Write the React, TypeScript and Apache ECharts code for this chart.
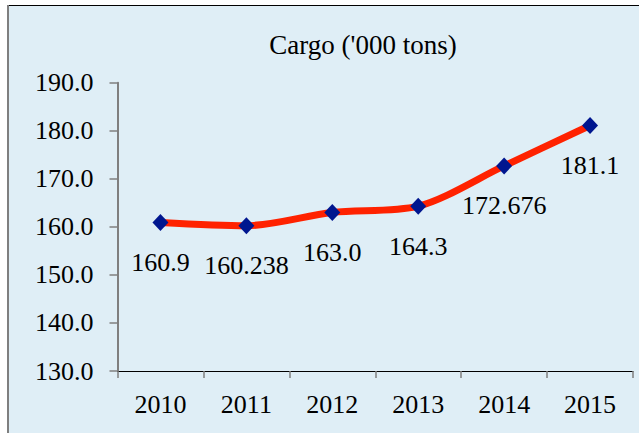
import React, { useEffect, useRef } from "react";
import * as echarts from "echarts";

const years = ["2010", "2011", "2012", "2013", "2014", "2015"];
const cargo = [160.9, 160.238, 163.0, 164.3, 172.676, 181.1];
const cargoLabels = ["160.9", "160.238", "163.0", "164.3", "172.676", "181.1"];
const chartTitle = "Cargo ('000 tons)";

const FONT = "Times New Roman, Liberation Serif, Tinos, DejaVu Serif, serif";

export default function App() {
  const ref = useRef<HTMLDivElement>(null);
  useEffect(() => {
    if (!ref.current) return;
    const chart = echarts.init(ref.current, undefined, { renderer: "svg" });
    chart.setOption({
      animation: false,
      backgroundColor: "#ffffff",
      textStyle: { fontFamily: FONT },
      graphic: [
        {
          type: "rect",
          z: -10,
          silent: true,
          shape: { x: 7, y: 5.5, width: 640, height: 440 },
          style: { fill: "#DFEEF6", stroke: "none" },
        },
        {
          type: "line",
          z: -9,
          silent: true,
          shape: { x1: 7, y1: 5.5, x2: 640, y2: 5.5 },
          style: { stroke: "#000000", lineWidth: 1 },
        },
        {
          type: "line",
          z: -9,
          silent: true,
          shape: { x1: 8, y1: 5, x2: 8, y2: 440 },
          style: { stroke: "#7f7f7f", lineWidth: 2 },
        },
        {
          type: "text",
          x: 363,
          y: 45,
          style: {
            text: chartTitle,
            fontFamily: FONT,
            fontSize: 27,
            fill: "#000000",
            textAlign: "center",
            textVerticalAlign: "middle",
          },
        },
      ],
      grid: { left: 117.5, right: 6, top: 82.7, bottom: 62, containLabel: false },
      xAxis: {
        type: "category",
        data: years,
        boundaryGap: true,
        axisLine: { show: true, lineStyle: { color: "#000000", width: 1 } },
        axisTick: { show: true, length: 7, lineStyle: { color: "#7f7f7f", width: 1.5 } },
        axisLabel: { color: "#000000", fontFamily: FONT, fontSize: 26, margin: 20 },
      },
      yAxis: {
        type: "value",
        min: 130,
        max: 190,
        interval: 10,
        axisLine: { show: true, onZero: false, lineStyle: { color: "#7f7f7f", width: 2 } },
        axisTick: { show: true, length: 8, lineStyle: { color: "#7f7f7f", width: 1.5 } },
        axisLabel: {
          color: "#000000",
          fontFamily: FONT,
          fontSize: 26,
          margin: 24,
          formatter: (v: number) => v.toFixed(1),
        },
        splitLine: { show: false },
      },
      series: [
        {
          type: "line",
          data: cargo,
          smooth: 0.3,
          symbol: "diamond",
          symbolSize: [16, 17],
          itemStyle: { color: "#00168F" },
          lineStyle: { color: "#FF2200", width: 7 },
          label: {
            show: true,
            position: "inside",
            offset: [0, 40],
            color: "#000000",
            fontFamily: FONT,
            fontSize: 26,
            formatter: (p: any) => cargoLabels[p.dataIndex],
          },
        },
      ],
    });
    return () => chart.dispose();
  }, []);
  return (
    <div
      ref={ref}
      style={{ position: "fixed", left: 0, top: 0, width: 639, height: 433 }}
    />
  );
}
